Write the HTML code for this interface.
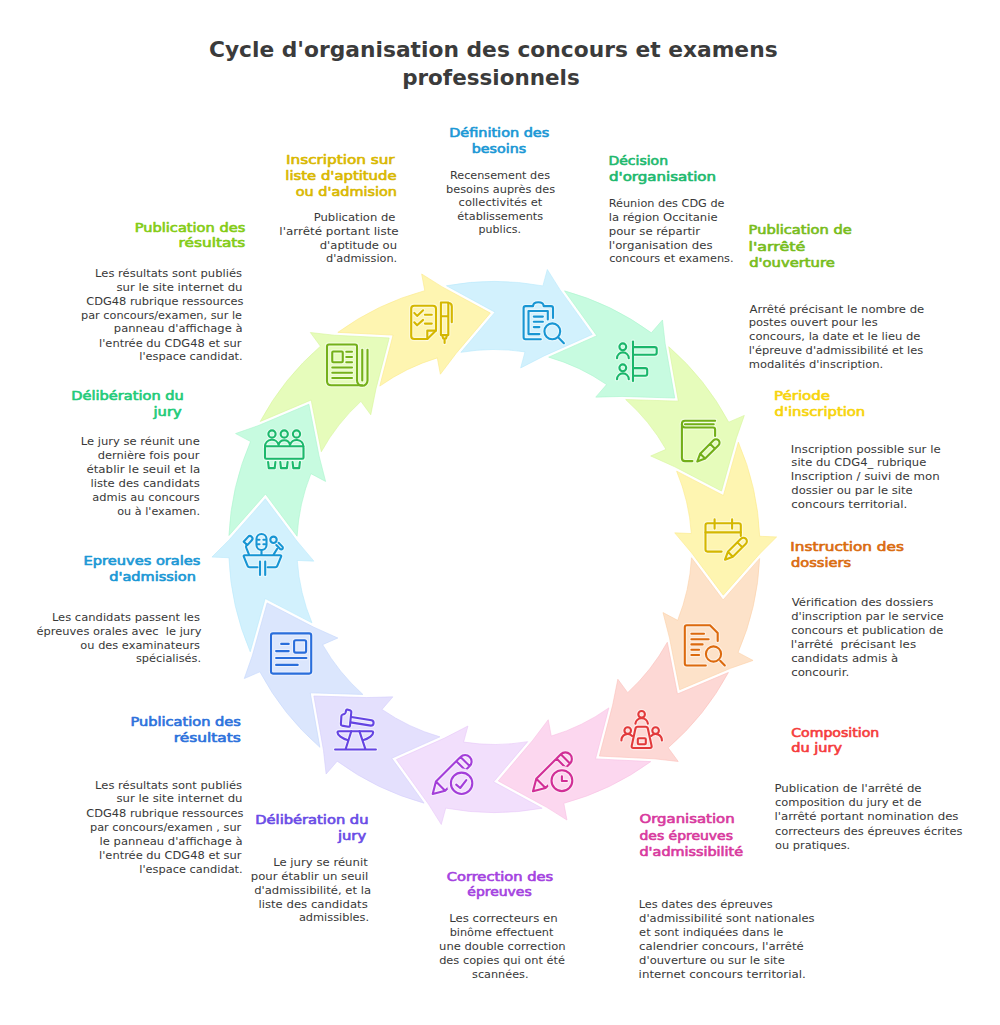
<!DOCTYPE html>
<html><head><meta charset="utf-8"><title>Cycle d'organisation des concours et examens professionnels</title><style>html,body{margin:0;padding:0;background:#fff;overflow:hidden;}svg{display:block;}</style></head><body>
<svg width="1000" height="1025" viewBox="0 0 1000 1025">
<rect width="1000" height="1025" fill="#ffffff"/>
<defs>
<mask id="km7" maskUnits="userSpaceOnUse" x="0" y="0" width="1000" height="1025"><rect x="0" y="0" width="1000" height="1025" fill="#fff"/><circle cx="561.9" cy="780.7" r="14.6" fill="#000"/></mask>
<mask id="km8" maskUnits="userSpaceOnUse" x="0" y="0" width="1000" height="1025"><rect x="0" y="0" width="1000" height="1025" fill="#fff"/><circle cx="461.6" cy="783.3" r="14.9" fill="#000"/></mask>
</defs>
<path d="M337.83,332.39 A265.6,265.6 0 0 1 424.78,290.66 L421.66,273.97 L441.80,286.64 L490.33,313.04 L456.26,353.20 L440.37,374.24 L437.32,357.90 A197.5,197.5 0 0 0 379.77,386.10 L393.04,335.12 Z" fill="#fef5b1" stroke="#fbe98a" stroke-width="0.6" stroke-linejoin="miter"/>
<path d="M446.44,285.75 A265.6,265.6 0 0 1 542.88,285.88 L547.32,269.50 L559.97,289.65 L592.23,334.49 L544.12,355.89 L520.67,367.95 L525.01,351.90 A197.5,197.5 0 0 0 460.92,352.34 L495.00,312.17 Z" fill="#d2f1fd" stroke="#b9e9fb" stroke-width="0.6" stroke-linejoin="miter"/>
<path d="M564.53,290.85 A265.6,265.6 0 0 1 651.37,332.82 L662.47,319.98 L665.13,343.62 L674.74,398.02 L622.10,396.43 L595.74,397.13 L606.62,384.55 A197.5,197.5 0 0 0 548.69,357.14 L596.82,335.73 Z" fill="#c7fbe0" stroke="#a9f5cc" stroke-width="0.6" stroke-linejoin="miter"/>
<path d="M668.71,346.69 A265.6,265.6 0 0 1 728.74,422.18 L744.32,415.43 L736.45,437.88 L721.51,491.07 L674.78,466.79 L650.73,455.98 L665.98,449.37 A197.5,197.5 0 0 0 625.68,399.54 L678.33,401.13 Z" fill="#e6fcbb" stroke="#d6f59a" stroke-width="0.6" stroke-linejoin="miter"/>
<path d="M738.35,442.21 A265.6,265.6 0 0 1 759.68,536.26 L776.64,536.94 L759.81,553.75 L723.28,595.19 L691.71,553.04 L674.72,532.87 L691.34,533.53 A197.5,197.5 0 0 0 676.65,471.14 L723.40,495.43 Z" fill="#fef5b1" stroke="#fbe98a" stroke-width="0.6" stroke-linejoin="miter"/>
<path d="M759.65,558.47 A265.6,265.6 0 0 1 738.06,652.47 L753.05,660.44 L730.59,668.29 L679.69,689.76 L669.54,638.09 L662.99,612.55 L677.67,620.36 A197.5,197.5 0 0 0 691.51,557.77 L723.09,599.94 Z" fill="#fde2c9" stroke="#fbd0a8" stroke-width="0.6" stroke-linejoin="miter"/>
<path d="M728.40,672.47 A265.6,265.6 0 0 1 668.16,747.79 L678.21,761.47 L654.56,758.80 L599.39,756.07 L612.66,705.11 L617.84,679.25 L627.68,692.65 A197.5,197.5 0 0 0 667.30,642.27 L677.46,693.96 Z" fill="#fdd8d5" stroke="#fbc0bb" stroke-width="0.6" stroke-linejoin="miter"/>
<path d="M650.77,761.61 A265.6,265.6 0 0 1 563.82,803.34 L566.94,820.03 L546.80,807.36 L498.27,780.96 L532.34,740.80 L548.23,719.76 L551.28,736.10 A197.5,197.5 0 0 0 608.83,707.90 L595.56,758.88 Z" fill="#fcd7ef" stroke="#f8bfe3" stroke-width="0.6" stroke-linejoin="miter"/>
<path d="M542.16,808.25 A265.6,265.6 0 0 1 445.72,808.12 L441.28,824.50 L428.63,804.35 L396.37,759.51 L444.48,738.11 L467.93,726.05 L463.59,742.10 A197.5,197.5 0 0 0 527.68,741.66 L493.60,781.83 Z" fill="#f2dffc" stroke="#e8c8f9" stroke-width="0.6" stroke-linejoin="miter"/>
<path d="M424.07,803.15 A265.6,265.6 0 0 1 337.23,761.18 L326.13,774.02 L323.47,750.38 L313.86,695.98 L366.50,697.57 L392.86,696.87 L381.98,709.45 A197.5,197.5 0 0 0 439.91,736.86 L391.78,758.27 Z" fill="#e4e0fd" stroke="#d3ccfb" stroke-width="0.6" stroke-linejoin="miter"/>
<path d="M319.89,747.31 A265.6,265.6 0 0 1 259.86,671.82 L244.28,678.57 L252.15,656.12 L267.09,602.93 L313.82,627.21 L337.87,638.02 L322.62,644.63 A197.5,197.5 0 0 0 362.92,694.46 L310.27,692.87 Z" fill="#dbe6fd" stroke="#c4d6fb" stroke-width="0.6" stroke-linejoin="miter"/>
<path d="M250.25,651.79 A265.6,265.6 0 0 1 228.92,557.74 L211.96,557.06 L228.79,540.25 L265.32,498.81 L296.89,540.96 L313.88,561.13 L297.26,560.47 A197.5,197.5 0 0 0 311.95,622.86 L265.20,598.57 Z" fill="#d2f1fd" stroke="#b9e9fb" stroke-width="0.6" stroke-linejoin="miter"/>
<path d="M228.95,535.53 A265.6,265.6 0 0 1 250.54,441.53 L235.55,433.56 L258.01,425.71 L308.91,404.24 L319.06,455.91 L325.61,481.45 L310.93,473.64 A197.5,197.5 0 0 0 297.09,536.23 L265.51,494.06 Z" fill="#c7fbe0" stroke="#a9f5cc" stroke-width="0.6" stroke-linejoin="miter"/>
<path d="M260.20,421.53 A265.6,265.6 0 0 1 320.44,346.21 L310.39,332.53 L334.04,335.20 L389.21,337.93 L375.94,388.89 L370.76,414.75 L360.92,401.35 A197.5,197.5 0 0 0 321.30,451.73 L311.14,400.04 Z" fill="#e6fcbb" stroke="#d6f59a" stroke-width="0.6" stroke-linejoin="miter"/>
<g fill="none" stroke="#ffffff" stroke-opacity="0.45" stroke-width="4.4" stroke-linecap="round" stroke-linejoin="round">
<path d="M427.3,339 H414.2 Q411.2,339 411.2,336 V308.7 Q411.2,305.7 414.2,305.7 H433 Q436,305.7 436,308.7 V330.6 Z"/>
<path d="M427.3,339 V330.6 H436"/>
<path d="M414.3,312.9 L417.1,315.9 L423.1,310.3 M414.3,322.3 L417.1,325.3 L423.1,319.9"/>
<path d="M424.9,314.8 H431.8 M424.9,323.6 H431.8"/>
<path d="M440.9,335.1 V302.5 H448.3 V335.1 Z M440.9,316.2 H448.3"/>
<path d="M448.3,303 C450.5,303 451.8,304.5 451.8,306.5 V322.2"/>
<path d="M442.2,335.3 L443.2,338.5 H446 L447,335.3 M444.6,338.5 V343"/>
</g>
<g fill="none" stroke="#d4b700" stroke-width="2.1" stroke-linecap="round" stroke-linejoin="round">
<path d="M427.3,339 H414.2 Q411.2,339 411.2,336 V308.7 Q411.2,305.7 414.2,305.7 H433 Q436,305.7 436,308.7 V330.6 Z"/>
<path d="M427.3,339 V330.6 H436"/>
<path d="M414.3,312.9 L417.1,315.9 L423.1,310.3 M414.3,322.3 L417.1,325.3 L423.1,319.9"/>
<path d="M424.9,314.8 H431.8 M424.9,323.6 H431.8"/>
<path d="M440.9,335.1 V302.5 H448.3 V335.1 Z M440.9,316.2 H448.3"/>
<path d="M448.3,303 C450.5,303 451.8,304.5 451.8,306.5 V322.2"/>
<path d="M442.2,335.3 L443.2,338.5 H446 L447,335.3 M444.6,338.5 V343"/>
</g>
<g fill="none" stroke="#ffffff" stroke-opacity="0.45" stroke-width="4.4" stroke-linecap="round" stroke-linejoin="round">
<path d="M540.8,339.3 H525.6 Q523.6,339.3 523.6,337.3 V308.1 Q523.6,306.1 525.6,306.1 H533.1 C533.1,303.5 535.5,302.2 538.3,302.2 C541.1,302.2 543.6,303.5 543.6,306.1 H551 Q553,306.1 553,308.1 V318"/>
<path d="M547.8,319.4 V311 H528.5 V334.1 H539.4"/>
<path d="M533.8,316.6 H542.9 M533.8,321.8 H542.9 M533.8,327.1 H539.4"/>
<circle cx="552.3" cy="331.3" r="7.9"/>
<path d="M558.3,337.6 L563.9,343.2"/>
</g>
<g fill="none" stroke="#1896d3" stroke-width="2.1" stroke-linecap="round" stroke-linejoin="round">
<path d="M540.8,339.3 H525.6 Q523.6,339.3 523.6,337.3 V308.1 Q523.6,306.1 525.6,306.1 H533.1 C533.1,303.5 535.5,302.2 538.3,302.2 C541.1,302.2 543.6,303.5 543.6,306.1 H551 Q553,306.1 553,308.1 V318"/>
<path d="M547.8,319.4 V311 H528.5 V334.1 H539.4"/>
<path d="M533.8,316.6 H542.9 M533.8,321.8 H542.9 M533.8,327.1 H539.4"/>
<circle cx="552.3" cy="331.3" r="7.9"/>
<path d="M558.3,337.6 L563.9,343.2"/>
</g>
<g fill="none" stroke="#ffffff" stroke-opacity="0.45" stroke-width="4.4" stroke-linecap="round" stroke-linejoin="round">
<circle cx="622.8" cy="346.8" r="3.4"/>
<path d="M617,358.3 A5.9,5.9 0 0 1 628.8,358.3"/>
<circle cx="622.8" cy="367.8" r="3.4"/>
<path d="M617,379.3 A5.9,5.9 0 0 1 628.8,379.3"/>
<path d="M633,341.5 V381.1"/>
<path d="M633,347.1 H654.7 Q656.7,347.1 656.7,349.1 V352.8 Q656.7,354.8 654.7,354.8 H633"/>
<path d="M633,368.1 H645.2 Q647.2,368.1 647.2,370.1 V373.8 Q647.2,375.8 645.2,375.8 H633"/>
</g>
<g fill="none" stroke="#1ab66b" stroke-width="2.1" stroke-linecap="round" stroke-linejoin="round">
<circle cx="622.8" cy="346.8" r="3.4"/>
<path d="M617,358.3 A5.9,5.9 0 0 1 628.8,358.3"/>
<circle cx="622.8" cy="367.8" r="3.4"/>
<path d="M617,379.3 A5.9,5.9 0 0 1 628.8,379.3"/>
<path d="M633,341.5 V381.1"/>
<path d="M633,347.1 H654.7 Q656.7,347.1 656.7,349.1 V352.8 Q656.7,354.8 654.7,354.8 H633"/>
<path d="M633,368.1 H645.2 Q647.2,368.1 647.2,370.1 V373.8 Q647.2,375.8 645.2,375.8 H633"/>
</g>
<g fill="none" stroke="#ffffff" stroke-opacity="0.45" stroke-width="4.4" stroke-linecap="round" stroke-linejoin="round">
<path d="M715.1,420.8 H685 Q681.9,420.8 681.9,424 V457.9 Q681.9,461.1 685,461.1 H692.4"/>
<path d="M681.9,424 Q681.9,427.5 685,427.5 H713.1 Q715.1,427.5 715.1,429.5 V435.9"/>
<path d="M685,424.2 H713.7"/>
<g><g transform="translate(697.3,461.5) rotate(-45)"><path d="M7.6,-3.5 L0,0 L7.6,3.5 M7.6,-3.5 L7.6,3.5 M7.6,-3.5 L26.5,-3.5 A3.5,3.5 0 0 1 26.5,3.5 L7.6,3.5 M21.5,-3.5 L21.5,3.5"/></g></g>
</g>
<g fill="none" stroke="#72ae18" stroke-width="2.1" stroke-linecap="round" stroke-linejoin="round">
<path d="M715.1,420.8 H685 Q681.9,420.8 681.9,424 V457.9 Q681.9,461.1 685,461.1 H692.4"/>
<path d="M681.9,424 Q681.9,427.5 685,427.5 H713.1 Q715.1,427.5 715.1,429.5 V435.9"/>
<path d="M685,424.2 H713.7"/>
<g><g transform="translate(697.3,461.5) rotate(-45)"><path d="M7.6,-3.5 L0,0 L7.6,3.5 M7.6,-3.5 L7.6,3.5 M7.6,-3.5 L26.5,-3.5 A3.5,3.5 0 0 1 26.5,3.5 L7.6,3.5 M21.5,-3.5 L21.5,3.5"/></g></g>
</g>
<g fill="none" stroke="#ffffff" stroke-opacity="0.45" stroke-width="4.4" stroke-linecap="round" stroke-linejoin="round">
<path d="M740.8,535.9 V525.3 Q740.8,523.3 738.8,523.3 H707.5 Q705.5,523.3 705.5,525.3 V549.6 Q705.5,551.6 707.5,551.6 H721.6"/>
<path d="M705.5,532.4 H740.8 M714.6,519.4 V528.6 M732.1,519.4 V528.6"/>
<g><g transform="translate(725.0,559.7) rotate(-45)"><path d="M7.6,-3.5 L0,0 L7.6,3.5 M7.6,-3.5 L7.6,3.5 M7.6,-3.5 L26.0,-3.5 A3.5,3.5 0 0 1 26.0,3.5 L7.6,3.5 M21.0,-3.5 L21.0,3.5"/></g></g>
</g>
<g fill="none" stroke="#d4b700" stroke-width="2.1" stroke-linecap="round" stroke-linejoin="round">
<path d="M740.8,535.9 V525.3 Q740.8,523.3 738.8,523.3 H707.5 Q705.5,523.3 705.5,525.3 V549.6 Q705.5,551.6 707.5,551.6 H721.6"/>
<path d="M705.5,532.4 H740.8 M714.6,519.4 V528.6 M732.1,519.4 V528.6"/>
<g><g transform="translate(725.0,559.7) rotate(-45)"><path d="M7.6,-3.5 L0,0 L7.6,3.5 M7.6,-3.5 L7.6,3.5 M7.6,-3.5 L26.0,-3.5 A3.5,3.5 0 0 1 26.0,3.5 L7.6,3.5 M21.0,-3.5 L21.0,3.5"/></g></g>
</g>
<g fill="none" stroke="#ffffff" stroke-opacity="0.45" stroke-width="4.4" stroke-linecap="round" stroke-linejoin="round">
<path d="M717.7,641 V633 L710,625.3 H686.8 Q684.8,625.3 684.8,627.3 V663.5 Q684.8,665.5 686.8,665.5 H705.8"/>
<path d="M691.4,633.8 H704 M691.4,639.2 H708.6 M691.4,644.4 H702.6 M691.4,649.8 H699.1 M691.4,655 H699.1"/>
<circle cx="713.5" cy="654" r="7.6"/>
<path d="M720.2,660.8 L724.8,665.5"/>
</g>
<g fill="none" stroke="#dc6a0e" stroke-width="2.1" stroke-linecap="round" stroke-linejoin="round">
<path d="M717.7,641 V633 L710,625.3 H686.8 Q684.8,625.3 684.8,627.3 V663.5 Q684.8,665.5 686.8,665.5 H705.8"/>
<path d="M691.4,633.8 H704 M691.4,639.2 H708.6 M691.4,644.4 H702.6 M691.4,649.8 H699.1 M691.4,655 H699.1"/>
<circle cx="713.5" cy="654" r="7.6"/>
<path d="M720.2,660.8 L724.8,665.5"/>
</g>
<g fill="none" stroke="#ffffff" stroke-opacity="0.45" stroke-width="4.4" stroke-linecap="round" stroke-linejoin="round">
<circle cx="641.6" cy="714.3" r="3.3"/>
<path d="M635.4,723.6 A6.3,6.3 0 0 1 647.9,723.6"/>
<circle cx="627.7" cy="730.6" r="3.3"/>
<path d="M621.4,740.4 A6.3,6.3 0 0 1 632.2,736"/>
<circle cx="655.6" cy="730.6" r="3.3"/>
<path d="M661.9,740.4 A6.3,6.3 0 0 0 651.1,736"/>
<path d="M637.8,726.7 H645.5 Q647.5,726.7 647.9,728.7 L651.6,745.9 Q652,748 650,748 H633.3 Q631.3,748 631.7,745.9 L635.4,728.7 Q635.8,726.7 637.8,726.7 Z"/>
<rect x="637.8" y="738.3" width="8" height="6" rx="1"/>
</g>
<g fill="none" stroke="#e2393a" stroke-width="2.1" stroke-linecap="round" stroke-linejoin="round">
<circle cx="641.6" cy="714.3" r="3.3"/>
<path d="M635.4,723.6 A6.3,6.3 0 0 1 647.9,723.6"/>
<circle cx="627.7" cy="730.6" r="3.3"/>
<path d="M621.4,740.4 A6.3,6.3 0 0 1 632.2,736"/>
<circle cx="655.6" cy="730.6" r="3.3"/>
<path d="M661.9,740.4 A6.3,6.3 0 0 0 651.1,736"/>
<path d="M637.8,726.7 H645.5 Q647.5,726.7 647.9,728.7 L651.6,745.9 Q652,748 650,748 H633.3 Q631.3,748 631.7,745.9 L635.4,728.7 Q635.8,726.7 637.8,726.7 Z"/>
<rect x="637.8" y="738.3" width="8" height="6" rx="1"/>
</g>
<g fill="none" stroke="#ffffff" stroke-opacity="0.45" stroke-width="4.4" stroke-linecap="round" stroke-linejoin="round">
<g mask="url(#km7)"><g transform="translate(533.0,791.3) rotate(-45)"><path d="M11.2,-6.5 L0,0 L11.2,6.5 M11.2,-6.5 L11.2,6.5 M11.2,-6.5 L45.8,-6.5 A6.5,6.5 0 0 1 45.8,6.5 L11.2,6.5 M39.8,-6.5 L39.8,6.5 M45.8,-6.5 L45.8,6.5"/></g></g>
<circle cx="561.9" cy="780.7" r="10.4"/>
<path d="M561.9,776.2 V781 H566.9"/>
</g>
<g fill="none" stroke="#d12e96" stroke-width="2.1" stroke-linecap="round" stroke-linejoin="round">
<g mask="url(#km7)"><g transform="translate(533.0,791.3) rotate(-45)"><path d="M11.2,-6.5 L0,0 L11.2,6.5 M11.2,-6.5 L11.2,6.5 M11.2,-6.5 L45.8,-6.5 A6.5,6.5 0 0 1 45.8,6.5 L11.2,6.5 M39.8,-6.5 L39.8,6.5 M45.8,-6.5 L45.8,6.5"/></g></g>
<circle cx="561.9" cy="780.7" r="10.4"/>
<path d="M561.9,776.2 V781 H566.9"/>
</g>
<g fill="none" stroke="#ffffff" stroke-opacity="0.45" stroke-width="4.4" stroke-linecap="round" stroke-linejoin="round">
<g mask="url(#km8)"><g transform="translate(432.7,793.9) rotate(-45)"><path d="M11.1,-6.5 L0,0 L11.1,6.5 M11.1,-6.5 L11.1,6.5 M11.1,-6.5 L45.8,-6.5 A6.5,6.5 0 0 1 45.8,6.5 L11.1,6.5 M39.8,-6.5 L39.8,6.5 M45.8,-6.5 L45.8,6.5"/></g></g>
<circle cx="461.6" cy="783.3" r="10.7"/>
<path d="M456.2,784.6 L460.2,788 L466.3,780.1"/>
</g>
<g fill="none" stroke="#a33ed9" stroke-width="2.1" stroke-linecap="round" stroke-linejoin="round">
<g mask="url(#km8)"><g transform="translate(432.7,793.9) rotate(-45)"><path d="M11.1,-6.5 L0,0 L11.1,6.5 M11.1,-6.5 L11.1,6.5 M11.1,-6.5 L45.8,-6.5 A6.5,6.5 0 0 1 45.8,6.5 L11.1,6.5 M39.8,-6.5 L39.8,6.5 M45.8,-6.5 L45.8,6.5"/></g></g>
<circle cx="461.6" cy="783.3" r="10.7"/>
<path d="M456.2,784.6 L460.2,788 L466.3,780.1"/>
</g>
<g fill="none" stroke="#ffffff" stroke-opacity="0.45" stroke-width="4.4" stroke-linecap="round" stroke-linejoin="round">
<path d="M347.2,709.6 L350.6,710.6 Q351.4,711 351.3,712 L350,725.5 Q349.8,727 348.3,726.8 L342,725.6 Q340.8,725.3 340.9,724 L341.4,716 Q341.5,715 342.5,714.6 L344.3,713.9 Q345.3,713.5 345.6,712.5 L346.1,710.4 Q346.4,709.4 347.2,709.6 Z"/>
<path d="M351.3,717 L371.6,720.3 A2.7,2.7 0 0 1 370.8,725.6 L350.6,722.4"/>
<path d="M347.4,740 C342,738.5 337.5,735 337.5,732.6 Q337.5,731.2 339,731.2 H371.8 Q373.2,731.2 373.2,732.6 C373.2,735 369,738.5 363.6,740"/>
<path d="M351.3,731.2 L345.6,749.2 M359.4,731.2 L365.4,749.2 M335.1,749.5 H375.9"/>
</g>
<g fill="none" stroke="#6444e2" stroke-width="2.1" stroke-linecap="round" stroke-linejoin="round">
<path d="M347.2,709.6 L350.6,710.6 Q351.4,711 351.3,712 L350,725.5 Q349.8,727 348.3,726.8 L342,725.6 Q340.8,725.3 340.9,724 L341.4,716 Q341.5,715 342.5,714.6 L344.3,713.9 Q345.3,713.5 345.6,712.5 L346.1,710.4 Q346.4,709.4 347.2,709.6 Z"/>
<path d="M351.3,717 L371.6,720.3 A2.7,2.7 0 0 1 370.8,725.6 L350.6,722.4"/>
<path d="M347.4,740 C342,738.5 337.5,735 337.5,732.6 Q337.5,731.2 339,731.2 H371.8 Q373.2,731.2 373.2,732.6 C373.2,735 369,738.5 363.6,740"/>
<path d="M351.3,731.2 L345.6,749.2 M359.4,731.2 L365.4,749.2 M335.1,749.5 H375.9"/>
</g>
<g fill="none" stroke="#ffffff" stroke-opacity="0.45" stroke-width="4.4" stroke-linecap="round" stroke-linejoin="round">
<rect x="271" y="633.4" width="40.2" height="40.2" rx="2"/>
<rect x="294.1" y="640.3" width="12" height="12.3" rx="1.5"/>
<path d="M281.2,643.9 H288.7 M276.1,651.1 H288.7 M276.1,658 H306.4 M276.1,664.9 H297.7"/>
</g>
<g fill="none" stroke="#2a6edb" stroke-width="2.1" stroke-linecap="round" stroke-linejoin="round">
<rect x="271" y="633.4" width="40.2" height="40.2" rx="2"/>
<rect x="294.1" y="640.3" width="12" height="12.3" rx="1.5"/>
<path d="M281.2,643.9 H288.7 M276.1,651.1 H288.7 M276.1,658 H306.4 M276.1,664.9 H297.7"/>
</g>
<g fill="none" stroke="#ffffff" stroke-opacity="0.45" stroke-width="4.4" stroke-linecap="round" stroke-linejoin="round">
<path d="M257.5,567.2 H249.6 Q248.1,567.2 247.6,565.9 L243.8,556.6 Q243.3,555.3 244.8,555.3 H280.1 Q281.6,555.3 281.1,556.6 L277.3,565.9 Q276.8,567.2 275.3,567.2 H267.7"/>
<path d="M260,561.5 V575 M265.2,561.5 V575"/>
<rect x="256.5" y="534" width="10" height="16" rx="5"/>
<path d="M261.5,550 V555 M257.9,539.8 H259.5 M263.4,539.8 H265.1 M257.9,544.3 H259.5 M263.4,544.3 H265.1"/>
<g transform="translate(248.6,540) rotate(-48)"><path d="M-4.6,-2.5 H2 A2.5,2.5 0 0 1 2,2.5 H-4.6 Z"/></g>
<path d="M246.6,544.2 Q245.4,546.8 246.8,549.2 L249,554.6"/>
<circle cx="273.5" cy="539.8" r="3.2"/>
<g transform="translate(279.7,546.2) rotate(45)"><path d="M-3.2,-1.6 H2.2 A1.6,1.6 0 0 1 2.2,1.6 H-3.2"/></g>
<path d="M277.2,548.8 L273.6,554.6"/>
</g>
<g fill="none" stroke="#1795d3" stroke-width="2.1" stroke-linecap="round" stroke-linejoin="round">
<path d="M257.5,567.2 H249.6 Q248.1,567.2 247.6,565.9 L243.8,556.6 Q243.3,555.3 244.8,555.3 H280.1 Q281.6,555.3 281.1,556.6 L277.3,565.9 Q276.8,567.2 275.3,567.2 H267.7"/>
<path d="M260,561.5 V575 M265.2,561.5 V575"/>
<rect x="256.5" y="534" width="10" height="16" rx="5"/>
<path d="M261.5,550 V555 M257.9,539.8 H259.5 M263.4,539.8 H265.1 M257.9,544.3 H259.5 M263.4,544.3 H265.1"/>
<g transform="translate(248.6,540) rotate(-48)"><path d="M-4.6,-2.5 H2 A2.5,2.5 0 0 1 2,2.5 H-4.6 Z"/></g>
<path d="M246.6,544.2 Q245.4,546.8 246.8,549.2 L249,554.6"/>
<circle cx="273.5" cy="539.8" r="3.2"/>
<g transform="translate(279.7,546.2) rotate(45)"><path d="M-3.2,-1.6 H2.2 A1.6,1.6 0 0 1 2.2,1.6 H-3.2"/></g>
<path d="M277.2,548.8 L273.6,554.6"/>
</g>
<g fill="none" stroke="#ffffff" stroke-opacity="0.45" stroke-width="4.4" stroke-linecap="round" stroke-linejoin="round">
<circle cx="272" cy="434" r="3.6"/>
<circle cx="284.25" cy="434" r="3.6"/>
<circle cx="296.5" cy="434" r="3.6"/>
<path d="M265,446.3 A6.9,6.9 0 0 1 278.6,445 M278.6,445 A5.8,5.8 0 0 1 290,445 M290,445 A6.9,6.9 0 0 1 303.5,446.3"/>
<rect x="265" y="446.3" width="38.5" height="12.4" rx="1.2"/>
<path d="M268.1,462 L268.8,468.1 H274.7 L275.4,462 M280.3,462 L281,468.1 H286.9 L287.6,462 M292.6,462 L293.3,468.1 H299.2 L299.9,462"/>
</g>
<g fill="none" stroke="#1cb86c" stroke-width="2.1" stroke-linecap="round" stroke-linejoin="round">
<circle cx="272" cy="434" r="3.6"/>
<circle cx="284.25" cy="434" r="3.6"/>
<circle cx="296.5" cy="434" r="3.6"/>
<path d="M265,446.3 A6.9,6.9 0 0 1 278.6,445 M278.6,445 A5.8,5.8 0 0 1 290,445 M290,445 A6.9,6.9 0 0 1 303.5,446.3"/>
<rect x="265" y="446.3" width="38.5" height="12.4" rx="1.2"/>
<path d="M268.1,462 L268.8,468.1 H274.7 L275.4,462 M280.3,462 L281,468.1 H286.9 L287.6,462 M292.6,462 L293.3,468.1 H299.2 L299.9,462"/>
</g>
<g fill="none" stroke="#ffffff" stroke-opacity="0.45" stroke-width="4.4" stroke-linecap="round" stroke-linejoin="round">
<path d="M357,346.5 V380.5 A5.25,5.25 0 0 0 367.5,380.5 V349.8"/>
<path d="M357,346.5 Q357,344.5 355,344.5 H329 Q327,344.5 327,346.5 V381 Q327,385.25 331.25,385.25 H362.25"/>
<path d="M362.25,349.8 V380.5"/>
<rect x="332.25" y="351.5" width="10.5" height="10.75" rx="1"/>
<path d="M346.3,351.8 H352 M346.3,357 H352 M346.3,362.3 H352 M332.3,367.5 H352 M332.3,372.8 H352 M332.3,378 H352"/>
</g>
<g fill="none" stroke="#74b01a" stroke-width="2.1" stroke-linecap="round" stroke-linejoin="round">
<path d="M357,346.5 V380.5 A5.25,5.25 0 0 0 367.5,380.5 V349.8"/>
<path d="M357,346.5 Q357,344.5 355,344.5 H329 Q327,344.5 327,346.5 V381 Q327,385.25 331.25,385.25 H362.25"/>
<path d="M362.25,349.8 V380.5"/>
<rect x="332.25" y="351.5" width="10.5" height="10.75" rx="1"/>
<path d="M346.3,351.8 H352 M346.3,357 H352 M346.3,362.3 H352 M332.3,367.5 H352 M332.3,372.8 H352 M332.3,378 H352"/>
</g>
<text x="208.91" y="57.00" font-family='"DejaVu Sans", sans-serif' font-size="21.5" font-weight="bold" fill="#3b3b3b" textLength="568.69" lengthAdjust="spacingAndGlyphs" xml:space="preserve">Cycle d'organisation des concours et examens</text>
<text x="402.18" y="84.60" font-family='"DejaVu Sans", sans-serif' font-size="21.5" font-weight="bold" fill="#3b3b3b" textLength="177.49" lengthAdjust="spacingAndGlyphs" xml:space="preserve">professionnels</text>
<text x="449.23" y="137.40" font-family='"DejaVu Sans", sans-serif' font-size="11.4" font-weight="normal" fill="#1b98d5" stroke="#1b98d5" stroke-width="0.6" stroke-linejoin="round" textLength="100.04" lengthAdjust="spacingAndGlyphs" xml:space="preserve">Définition des</text>
<text x="471.72" y="153.00" font-family='"DejaVu Sans", sans-serif' font-size="11.4" font-weight="normal" fill="#1b98d5" stroke="#1b98d5" stroke-width="0.6" stroke-linejoin="round" textLength="54.43" lengthAdjust="spacingAndGlyphs" xml:space="preserve">besoins</text>
<text x="449.93" y="178.80" font-family='"DejaVu Sans", sans-serif' font-size="9.8" font-weight="normal" fill="#383838" textLength="100.07" lengthAdjust="spacingAndGlyphs" xml:space="preserve">Recensement des</text>
<text x="445.98" y="192.60" font-family='"DejaVu Sans", sans-serif' font-size="9.8" font-weight="normal" fill="#383838" textLength="109.12" lengthAdjust="spacingAndGlyphs" xml:space="preserve">besoins auprès des</text>
<text x="458.57" y="206.40" font-family='"DejaVu Sans", sans-serif' font-size="9.8" font-weight="normal" fill="#383838" textLength="83.67" lengthAdjust="spacingAndGlyphs" xml:space="preserve">collectivités et</text>
<text x="457.38" y="220.20" font-family='"DejaVu Sans", sans-serif' font-size="9.8" font-weight="normal" fill="#383838" textLength="85.72" lengthAdjust="spacingAndGlyphs" xml:space="preserve">établissements</text>
<text x="478.61" y="233.40" font-family='"DejaVu Sans", sans-serif' font-size="9.8" font-weight="normal" fill="#383838" textLength="42.38" lengthAdjust="spacingAndGlyphs" xml:space="preserve">publics.</text>
<text x="608.47" y="165.10" font-family='"DejaVu Sans", sans-serif' font-size="11.4" font-weight="normal" fill="#1eb96e" stroke="#1eb96e" stroke-width="0.6" stroke-linejoin="round" textLength="59.58" lengthAdjust="spacingAndGlyphs" xml:space="preserve">Décision</text>
<text x="608.97" y="181.30" font-family='"DejaVu Sans", sans-serif' font-size="11.4" font-weight="normal" fill="#1eb96e" stroke="#1eb96e" stroke-width="0.6" stroke-linejoin="round" textLength="107.08" lengthAdjust="spacingAndGlyphs" xml:space="preserve">d'organisation</text>
<text x="608.73" y="206.50" font-family='"DejaVu Sans", sans-serif' font-size="9.8" font-weight="normal" fill="#383838" textLength="115.82" lengthAdjust="spacingAndGlyphs" xml:space="preserve">Réunion des CDG de</text>
<text x="608.70" y="220.80" font-family='"DejaVu Sans", sans-serif' font-size="9.8" font-weight="normal" fill="#383838" textLength="108.89" lengthAdjust="spacingAndGlyphs" xml:space="preserve">la région Occitanie</text>
<text x="608.75" y="234.60" font-family='"DejaVu Sans", sans-serif' font-size="9.8" font-weight="normal" fill="#383838" textLength="91.39" lengthAdjust="spacingAndGlyphs" xml:space="preserve">pour se répartir</text>
<text x="608.69" y="248.60" font-family='"DejaVu Sans", sans-serif' font-size="9.8" font-weight="normal" fill="#383838" textLength="103.85" lengthAdjust="spacingAndGlyphs" xml:space="preserve">l'organisation des</text>
<text x="609.18" y="262.10" font-family='"DejaVu Sans", sans-serif' font-size="9.8" font-weight="normal" fill="#383838" textLength="124.31" lengthAdjust="spacingAndGlyphs" xml:space="preserve">concours et examens.</text>
<text x="286.05" y="163.50" font-family='"DejaVu Sans", sans-serif' font-size="11.4" font-weight="normal" fill="#d9b800" stroke="#d9b800" stroke-width="0.6" stroke-linejoin="round" textLength="108.59" lengthAdjust="spacingAndGlyphs" xml:space="preserve">Inscription sur</text>
<text x="285.39" y="179.70" font-family='"DejaVu Sans", sans-serif' font-size="11.4" font-weight="normal" fill="#d9b800" stroke="#d9b800" stroke-width="0.6" stroke-linejoin="round" textLength="111.15" lengthAdjust="spacingAndGlyphs" xml:space="preserve">liste d'aptitude</text>
<text x="295.81" y="196.10" font-family='"DejaVu Sans", sans-serif' font-size="11.4" font-weight="normal" fill="#d9b800" stroke="#d9b800" stroke-width="0.6" stroke-linejoin="round" textLength="101.18" lengthAdjust="spacingAndGlyphs" xml:space="preserve">ou d'admision</text>
<text x="313.70" y="220.60" font-family='"DejaVu Sans", sans-serif' font-size="9.8" font-weight="normal" fill="#383838" textLength="81.79" lengthAdjust="spacingAndGlyphs" xml:space="preserve">Publication de</text>
<text x="279.36" y="234.60" font-family='"DejaVu Sans", sans-serif' font-size="9.8" font-weight="normal" fill="#383838" textLength="119.33" lengthAdjust="spacingAndGlyphs" xml:space="preserve">l'arrêté portant liste</text>
<text x="319.76" y="248.90" font-family='"DejaVu Sans", sans-serif' font-size="9.8" font-weight="normal" fill="#383838" textLength="77.24" lengthAdjust="spacingAndGlyphs" xml:space="preserve">d'aptitude ou</text>
<text x="326.08" y="262.40" font-family='"DejaVu Sans", sans-serif' font-size="9.8" font-weight="normal" fill="#383838" textLength="71.14" lengthAdjust="spacingAndGlyphs" xml:space="preserve">d'admission.</text>
<text x="748.61" y="234.00" font-family='"DejaVu Sans", sans-serif' font-size="11.4" font-weight="normal" fill="#78bd1c" stroke="#78bd1c" stroke-width="0.6" stroke-linejoin="round" textLength="103.13" lengthAdjust="spacingAndGlyphs" xml:space="preserve">Publication de</text>
<text x="748.49" y="250.50" font-family='"DejaVu Sans", sans-serif' font-size="11.4" font-weight="normal" fill="#78bd1c" stroke="#78bd1c" stroke-width="0.6" stroke-linejoin="round" textLength="56.82" lengthAdjust="spacingAndGlyphs" xml:space="preserve">l'arrêté</text>
<text x="749.19" y="267.00" font-family='"DejaVu Sans", sans-serif' font-size="11.4" font-weight="normal" fill="#78bd1c" stroke="#78bd1c" stroke-width="0.6" stroke-linejoin="round" textLength="85.53" lengthAdjust="spacingAndGlyphs" xml:space="preserve">d'ouverture</text>
<text x="749.63" y="312.50" font-family='"DejaVu Sans", sans-serif' font-size="9.8" font-weight="normal" fill="#383838" textLength="174.65" lengthAdjust="spacingAndGlyphs" xml:space="preserve">Arrêté précisant le nombre de</text>
<text x="748.72" y="326.40" font-family='"DejaVu Sans", sans-serif' font-size="9.8" font-weight="normal" fill="#383838" textLength="128.92" lengthAdjust="spacingAndGlyphs" xml:space="preserve">postes ouvert pour les</text>
<text x="749.12" y="340.20" font-family='"DejaVu Sans", sans-serif' font-size="9.8" font-weight="normal" fill="#383838" textLength="171.35" lengthAdjust="spacingAndGlyphs" xml:space="preserve">concours, la date et le lieu de</text>
<text x="748.66" y="353.90" font-family='"DejaVu Sans", sans-serif' font-size="9.8" font-weight="normal" fill="#383838" textLength="174.69" lengthAdjust="spacingAndGlyphs" xml:space="preserve">l'épreuve d'admissibilité et les</text>
<text x="748.71" y="368.20" font-family='"DejaVu Sans", sans-serif' font-size="9.8" font-weight="normal" fill="#383838" textLength="134.45" lengthAdjust="spacingAndGlyphs" xml:space="preserve">modalités d'inscription.</text>
<text x="773.97" y="399.80" font-family='"DejaVu Sans", sans-serif' font-size="11.4" font-weight="normal" fill="#f7d40c" stroke="#f7d40c" stroke-width="0.6" stroke-linejoin="round" textLength="56.16" lengthAdjust="spacingAndGlyphs" xml:space="preserve">Période</text>
<text x="774.59" y="416.00" font-family='"DejaVu Sans", sans-serif' font-size="11.4" font-weight="normal" fill="#f7d40c" stroke="#f7d40c" stroke-width="0.6" stroke-linejoin="round" textLength="90.62" lengthAdjust="spacingAndGlyphs" xml:space="preserve">d'inscription</text>
<text x="790.88" y="452.50" font-family='"DejaVu Sans", sans-serif' font-size="9.8" font-weight="normal" fill="#383838" textLength="149.81" lengthAdjust="spacingAndGlyphs" xml:space="preserve">Inscription possible sur le</text>
<text x="791.36" y="466.40" font-family='"DejaVu Sans", sans-serif' font-size="9.8" font-weight="normal" fill="#383838" textLength="134.92" lengthAdjust="spacingAndGlyphs" xml:space="preserve">site du CDG4_ rubrique</text>
<text x="790.88" y="480.00" font-family='"DejaVu Sans", sans-serif' font-size="9.8" font-weight="normal" fill="#383838" textLength="148.92" lengthAdjust="spacingAndGlyphs" xml:space="preserve">Inscription / suivi de mon</text>
<text x="791.36" y="494.30" font-family='"DejaVu Sans", sans-serif' font-size="9.8" font-weight="normal" fill="#383838" textLength="121.39" lengthAdjust="spacingAndGlyphs" xml:space="preserve">dossier ou par le site</text>
<text x="791.35" y="508.30" font-family='"DejaVu Sans", sans-serif' font-size="9.8" font-weight="normal" fill="#383838" textLength="115.81" lengthAdjust="spacingAndGlyphs" xml:space="preserve">concours territorial.</text>
<text x="790.35" y="551.20" font-family='"DejaVu Sans", sans-serif' font-size="11.4" font-weight="normal" fill="#da6c10" stroke="#da6c10" stroke-width="0.6" stroke-linejoin="round" textLength="113.55" lengthAdjust="spacingAndGlyphs" xml:space="preserve">Instruction des</text>
<text x="791.00" y="567.00" font-family='"DejaVu Sans", sans-serif' font-size="11.4" font-weight="normal" fill="#da6c10" stroke="#da6c10" stroke-width="0.6" stroke-linejoin="round" textLength="60.14" lengthAdjust="spacingAndGlyphs" xml:space="preserve">dossiers</text>
<text x="791.68" y="606.40" font-family='"DejaVu Sans", sans-serif' font-size="9.8" font-weight="normal" fill="#383838" textLength="141.73" lengthAdjust="spacingAndGlyphs" xml:space="preserve">Vérification des dossiers</text>
<text x="791.17" y="620.00" font-family='"DejaVu Sans", sans-serif' font-size="9.8" font-weight="normal" fill="#383838" textLength="152.50" lengthAdjust="spacingAndGlyphs" xml:space="preserve">d'inscription par le service</text>
<text x="791.17" y="634.10" font-family='"DejaVu Sans", sans-serif' font-size="9.8" font-weight="normal" fill="#383838" textLength="152.22" lengthAdjust="spacingAndGlyphs" xml:space="preserve">concours et publication de</text>
<text x="790.67" y="648.00" font-family='"DejaVu Sans", sans-serif' font-size="9.8" font-weight="normal" fill="#383838" textLength="125.47" lengthAdjust="spacingAndGlyphs" xml:space="preserve">l'arrêté  précisant les</text>
<text x="791.16" y="662.20" font-family='"DejaVu Sans", sans-serif' font-size="9.8" font-weight="normal" fill="#383838" textLength="107.09" lengthAdjust="spacingAndGlyphs" xml:space="preserve">candidats admis à</text>
<text x="791.15" y="676.10" font-family='"DejaVu Sans", sans-serif' font-size="9.8" font-weight="normal" fill="#383838" textLength="58.01" lengthAdjust="spacingAndGlyphs" xml:space="preserve">concourir.</text>
<text x="791.23" y="737.00" font-family='"DejaVu Sans", sans-serif' font-size="11.4" font-weight="normal" fill="#f53d3d" stroke="#f53d3d" stroke-width="0.6" stroke-linejoin="round" textLength="87.97" lengthAdjust="spacingAndGlyphs" xml:space="preserve">Composition</text>
<text x="791.20" y="752.40" font-family='"DejaVu Sans", sans-serif' font-size="11.4" font-weight="normal" fill="#f53d3d" stroke="#f53d3d" stroke-width="0.6" stroke-linejoin="round" textLength="50.85" lengthAdjust="spacingAndGlyphs" xml:space="preserve">du jury</text>
<text x="774.48" y="792.10" font-family='"DejaVu Sans", sans-serif' font-size="9.8" font-weight="normal" fill="#383838" textLength="147.13" lengthAdjust="spacingAndGlyphs" xml:space="preserve">Publication de l'arrêté de</text>
<text x="774.97" y="806.30" font-family='"DejaVu Sans", sans-serif' font-size="9.8" font-weight="normal" fill="#383838" textLength="146.59" lengthAdjust="spacingAndGlyphs" xml:space="preserve">composition du jury et de</text>
<text x="774.48" y="820.40" font-family='"DejaVu Sans", sans-serif' font-size="9.8" font-weight="normal" fill="#383838" textLength="184.04" lengthAdjust="spacingAndGlyphs" xml:space="preserve">l'arrêté portant nomination des</text>
<text x="774.97" y="834.50" font-family='"DejaVu Sans", sans-serif' font-size="9.8" font-weight="normal" fill="#383838" textLength="187.56" lengthAdjust="spacingAndGlyphs" xml:space="preserve">correcteurs des épreuves écrites</text>
<text x="774.97" y="848.80" font-family='"DejaVu Sans", sans-serif' font-size="9.8" font-weight="normal" fill="#383838" textLength="75.28" lengthAdjust="spacingAndGlyphs" xml:space="preserve">ou pratiques.</text>
<text x="639.48" y="823.00" font-family='"DejaVu Sans", sans-serif' font-size="11.4" font-weight="normal" fill="#d83a9e" stroke="#d83a9e" stroke-width="0.6" stroke-linejoin="round" textLength="95.17" lengthAdjust="spacingAndGlyphs" xml:space="preserve">Organisation</text>
<text x="639.53" y="839.60" font-family='"DejaVu Sans", sans-serif' font-size="11.4" font-weight="normal" fill="#d83a9e" stroke="#d83a9e" stroke-width="0.6" stroke-linejoin="round" textLength="93.40" lengthAdjust="spacingAndGlyphs" xml:space="preserve">des épreuves</text>
<text x="639.51" y="855.90" font-family='"DejaVu Sans", sans-serif' font-size="11.4" font-weight="normal" fill="#d83a9e" stroke="#d83a9e" stroke-width="0.6" stroke-linejoin="round" textLength="103.60" lengthAdjust="spacingAndGlyphs" xml:space="preserve">d'admissibilité</text>
<text x="638.67" y="908.30" font-family='"DejaVu Sans", sans-serif' font-size="9.8" font-weight="normal" fill="#383838" textLength="134.07" lengthAdjust="spacingAndGlyphs" xml:space="preserve">Les dates des épreuves</text>
<text x="639.11" y="922.20" font-family='"DejaVu Sans", sans-serif' font-size="9.8" font-weight="normal" fill="#383838" textLength="175.44" lengthAdjust="spacingAndGlyphs" xml:space="preserve">d'admissibilité sont nationales</text>
<text x="639.12" y="935.90" font-family='"DejaVu Sans", sans-serif' font-size="9.8" font-weight="normal" fill="#383838" textLength="144.28" lengthAdjust="spacingAndGlyphs" xml:space="preserve">et sont indiquées dans le</text>
<text x="639.11" y="950.10" font-family='"DejaVu Sans", sans-serif' font-size="9.8" font-weight="normal" fill="#383838" textLength="164.71" lengthAdjust="spacingAndGlyphs" xml:space="preserve">calendrier concours, l'arrêté</text>
<text x="639.11" y="963.80" font-family='"DejaVu Sans", sans-serif' font-size="9.8" font-weight="normal" fill="#383838" textLength="145.68" lengthAdjust="spacingAndGlyphs" xml:space="preserve">d'ouverture ou sur le site</text>
<text x="638.62" y="977.70" font-family='"DejaVu Sans", sans-serif' font-size="9.8" font-weight="normal" fill="#383838" textLength="167.17" lengthAdjust="spacingAndGlyphs" xml:space="preserve">internet concours territorial.</text>
<text x="446.69" y="880.50" font-family='"DejaVu Sans", sans-serif' font-size="11.4" font-weight="normal" fill="#a443e0" stroke="#a443e0" stroke-width="0.6" stroke-linejoin="round" textLength="106.50" lengthAdjust="spacingAndGlyphs" xml:space="preserve">Correction des</text>
<text x="467.33" y="896.30" font-family='"DejaVu Sans", sans-serif' font-size="11.4" font-weight="normal" fill="#a443e0" stroke="#a443e0" stroke-width="0.6" stroke-linejoin="round" textLength="64.41" lengthAdjust="spacingAndGlyphs" xml:space="preserve">épreuves</text>
<text x="449.18" y="922.20" font-family='"DejaVu Sans", sans-serif' font-size="9.8" font-weight="normal" fill="#383838" textLength="108.50" lengthAdjust="spacingAndGlyphs" xml:space="preserve">Les correcteurs en</text>
<text x="449.69" y="936.00" font-family='"DejaVu Sans", sans-serif' font-size="9.8" font-weight="normal" fill="#383838" textLength="103.76" lengthAdjust="spacingAndGlyphs" xml:space="preserve">binôme effectuent</text>
<text x="439.12" y="950.00" font-family='"DejaVu Sans", sans-serif' font-size="9.8" font-weight="normal" fill="#383838" textLength="126.53" lengthAdjust="spacingAndGlyphs" xml:space="preserve">une double correction</text>
<text x="439.17" y="963.50" font-family='"DejaVu Sans", sans-serif' font-size="9.8" font-weight="normal" fill="#383838" textLength="125.79" lengthAdjust="spacingAndGlyphs" xml:space="preserve">des copies qui ont été</text>
<text x="472.08" y="978.00" font-family='"DejaVu Sans", sans-serif' font-size="9.8" font-weight="normal" fill="#383838" textLength="56.41" lengthAdjust="spacingAndGlyphs" xml:space="preserve">scannées.</text>
<text x="255.31" y="824.20" font-family='"DejaVu Sans", sans-serif' font-size="11.4" font-weight="normal" fill="#6a4ce6" stroke="#6a4ce6" stroke-width="0.6" stroke-linejoin="round" textLength="113.17" lengthAdjust="spacingAndGlyphs" xml:space="preserve">Délibération du</text>
<text x="337.90" y="839.80" font-family='"DejaVu Sans", sans-serif' font-size="11.4" font-weight="normal" fill="#6a4ce6" stroke="#6a4ce6" stroke-width="0.6" stroke-linejoin="round" textLength="28.24" lengthAdjust="spacingAndGlyphs" xml:space="preserve">jury</text>
<text x="273.19" y="866.10" font-family='"DejaVu Sans", sans-serif' font-size="9.8" font-weight="normal" fill="#383838" textLength="94.56" lengthAdjust="spacingAndGlyphs" xml:space="preserve">Le jury se réunit</text>
<text x="250.75" y="879.80" font-family='"DejaVu Sans", sans-serif' font-size="9.8" font-weight="normal" fill="#383838" textLength="117.51" lengthAdjust="spacingAndGlyphs" xml:space="preserve">pour établir un seuil</text>
<text x="254.16" y="894.10" font-family='"DejaVu Sans", sans-serif' font-size="9.8" font-weight="normal" fill="#383838" textLength="116.94" lengthAdjust="spacingAndGlyphs" xml:space="preserve">d'admissibilité, et la</text>
<text x="258.49" y="907.70" font-family='"DejaVu Sans", sans-serif' font-size="9.8" font-weight="normal" fill="#383838" textLength="109.24" lengthAdjust="spacingAndGlyphs" xml:space="preserve">liste des candidats</text>
<text x="298.92" y="921.10" font-family='"DejaVu Sans", sans-serif' font-size="9.8" font-weight="normal" fill="#383838" textLength="70.18" lengthAdjust="spacingAndGlyphs" xml:space="preserve">admissibles.</text>
<text x="130.52" y="726.40" font-family='"DejaVu Sans", sans-serif' font-size="11.4" font-weight="normal" fill="#2d72dc" stroke="#2d72dc" stroke-width="0.6" stroke-linejoin="round" textLength="110.37" lengthAdjust="spacingAndGlyphs" xml:space="preserve">Publication des</text>
<text x="173.81" y="742.00" font-family='"DejaVu Sans", sans-serif' font-size="11.4" font-weight="normal" fill="#2d72dc" stroke="#2d72dc" stroke-width="0.6" stroke-linejoin="round" textLength="67.08" lengthAdjust="spacingAndGlyphs" xml:space="preserve">résultats</text>
<text x="95.10" y="788.80" font-family='"DejaVu Sans", sans-serif' font-size="9.8" font-weight="normal" fill="#383838" textLength="146.90" lengthAdjust="spacingAndGlyphs" xml:space="preserve">Les résultats sont publiés</text>
<text x="116.46" y="802.40" font-family='"DejaVu Sans", sans-serif' font-size="9.8" font-weight="normal" fill="#383838" textLength="126.09" lengthAdjust="spacingAndGlyphs" xml:space="preserve">sur le site internet du</text>
<text x="86.17" y="816.80" font-family='"DejaVu Sans", sans-serif' font-size="9.8" font-weight="normal" fill="#383838" textLength="157.26" lengthAdjust="spacingAndGlyphs" xml:space="preserve">CDG48 rubrique ressources</text>
<text x="89.98" y="830.70" font-family='"DejaVu Sans", sans-serif' font-size="9.8" font-weight="normal" fill="#383838" textLength="151.24" lengthAdjust="spacingAndGlyphs" xml:space="preserve">par concours/examen , sur</text>
<text x="99.60" y="844.90" font-family='"DejaVu Sans", sans-serif' font-size="9.8" font-weight="normal" fill="#383838" textLength="142.91" lengthAdjust="spacingAndGlyphs" xml:space="preserve">le panneau d'affichage à</text>
<text x="99.01" y="859.00" font-family='"DejaVu Sans", sans-serif' font-size="9.8" font-weight="normal" fill="#383838" textLength="142.52" lengthAdjust="spacingAndGlyphs" xml:space="preserve">l'entrée du CDG48 et sur</text>
<text x="139.32" y="872.90" font-family='"DejaVu Sans", sans-serif' font-size="9.8" font-weight="normal" fill="#383838" textLength="103.39" lengthAdjust="spacingAndGlyphs" xml:space="preserve">l'espace candidat.</text>
<text x="83.61" y="565.00" font-family='"DejaVu Sans", sans-serif' font-size="11.4" font-weight="normal" fill="#1b98d5" stroke="#1b98d5" stroke-width="0.6" stroke-linejoin="round" textLength="116.86" lengthAdjust="spacingAndGlyphs" xml:space="preserve">Epreuves orales</text>
<text x="109.20" y="581.10" font-family='"DejaVu Sans", sans-serif' font-size="11.4" font-weight="normal" fill="#1b98d5" stroke="#1b98d5" stroke-width="0.6" stroke-linejoin="round" textLength="86.73" lengthAdjust="spacingAndGlyphs" xml:space="preserve">d'admission</text>
<text x="51.90" y="620.60" font-family='"DejaVu Sans", sans-serif' font-size="9.8" font-weight="normal" fill="#383838" textLength="148.10" lengthAdjust="spacingAndGlyphs" xml:space="preserve">Les candidats passent les</text>
<text x="36.57" y="634.50" font-family='"DejaVu Sans", sans-serif' font-size="9.8" font-weight="normal" fill="#383838" textLength="165.01" lengthAdjust="spacingAndGlyphs" xml:space="preserve">épreuves orales avec  le jury</text>
<text x="80.37" y="648.50" font-family='"DejaVu Sans", sans-serif' font-size="9.8" font-weight="normal" fill="#383838" textLength="119.66" lengthAdjust="spacingAndGlyphs" xml:space="preserve">ou des examinateurs</text>
<text x="135.98" y="662.20" font-family='"DejaVu Sans", sans-serif' font-size="9.8" font-weight="normal" fill="#383838" textLength="65.04" lengthAdjust="spacingAndGlyphs" xml:space="preserve">spécialisés.</text>
<text x="71.31" y="400.10" font-family='"DejaVu Sans", sans-serif' font-size="11.4" font-weight="normal" fill="#22cb79" stroke="#22cb79" stroke-width="0.6" stroke-linejoin="round" textLength="112.55" lengthAdjust="spacingAndGlyphs" xml:space="preserve">Délibération du</text>
<text x="153.49" y="415.50" font-family='"DejaVu Sans", sans-serif' font-size="11.4" font-weight="normal" fill="#22cb79" stroke="#22cb79" stroke-width="0.6" stroke-linejoin="round" textLength="28.14" lengthAdjust="spacingAndGlyphs" xml:space="preserve">jury</text>
<text x="80.70" y="445.30" font-family='"DejaVu Sans", sans-serif' font-size="9.8" font-weight="normal" fill="#383838" textLength="119.10" lengthAdjust="spacingAndGlyphs" xml:space="preserve">Le jury se réunit une</text>
<text x="97.67" y="459.30" font-family='"DejaVu Sans", sans-serif' font-size="9.8" font-weight="normal" fill="#383838" textLength="101.73" lengthAdjust="spacingAndGlyphs" xml:space="preserve">dernière fois pour</text>
<text x="86.45" y="473.30" font-family='"DejaVu Sans", sans-serif' font-size="9.8" font-weight="normal" fill="#383838" textLength="113.82" lengthAdjust="spacingAndGlyphs" xml:space="preserve">établir le seuil et la</text>
<text x="90.49" y="487.30" font-family='"DejaVu Sans", sans-serif' font-size="9.8" font-weight="normal" fill="#383838" textLength="109.24" lengthAdjust="spacingAndGlyphs" xml:space="preserve">liste des candidats</text>
<text x="92.32" y="501.30" font-family='"DejaVu Sans", sans-serif' font-size="9.8" font-weight="normal" fill="#383838" textLength="107.41" lengthAdjust="spacingAndGlyphs" xml:space="preserve">admis au concours</text>
<text x="117.28" y="515.30" font-family='"DejaVu Sans", sans-serif' font-size="9.8" font-weight="normal" fill="#383838" textLength="82.75" lengthAdjust="spacingAndGlyphs" xml:space="preserve">ou à l'examen.</text>
<text x="134.71" y="232.00" font-family='"DejaVu Sans", sans-serif' font-size="11.4" font-weight="normal" fill="#84cc16" stroke="#84cc16" stroke-width="0.6" stroke-linejoin="round" textLength="110.57" lengthAdjust="spacingAndGlyphs" xml:space="preserve">Publication des</text>
<text x="178.62" y="247.30" font-family='"DejaVu Sans", sans-serif' font-size="11.4" font-weight="normal" fill="#84cc16" stroke="#84cc16" stroke-width="0.6" stroke-linejoin="round" textLength="66.67" lengthAdjust="spacingAndGlyphs" xml:space="preserve">résultats</text>
<text x="95.10" y="277.10" font-family='"DejaVu Sans", sans-serif' font-size="9.8" font-weight="normal" fill="#383838" textLength="146.90" lengthAdjust="spacingAndGlyphs" xml:space="preserve">Les résultats sont publiés</text>
<text x="116.46" y="290.70" font-family='"DejaVu Sans", sans-serif' font-size="9.8" font-weight="normal" fill="#383838" textLength="126.09" lengthAdjust="spacingAndGlyphs" xml:space="preserve">sur le site internet du</text>
<text x="86.17" y="304.80" font-family='"DejaVu Sans", sans-serif' font-size="9.8" font-weight="normal" fill="#383838" textLength="157.26" lengthAdjust="spacingAndGlyphs" xml:space="preserve">CDG48 rubrique ressources</text>
<text x="80.98" y="318.70" font-family='"DejaVu Sans", sans-serif' font-size="9.8" font-weight="normal" fill="#383838" textLength="161.08" lengthAdjust="spacingAndGlyphs" xml:space="preserve">par concours/examen, sur le</text>
<text x="113.86" y="332.30" font-family='"DejaVu Sans", sans-serif' font-size="9.8" font-weight="normal" fill="#383838" textLength="128.63" lengthAdjust="spacingAndGlyphs" xml:space="preserve">panneau d'affichage à</text>
<text x="99.01" y="346.80" font-family='"DejaVu Sans", sans-serif' font-size="9.8" font-weight="normal" fill="#383838" textLength="142.52" lengthAdjust="spacingAndGlyphs" xml:space="preserve">l'entrée du CDG48 et sur</text>
<text x="139.32" y="360.40" font-family='"DejaVu Sans", sans-serif' font-size="9.8" font-weight="normal" fill="#383838" textLength="103.39" lengthAdjust="spacingAndGlyphs" xml:space="preserve">l'espace candidat.</text>
</svg>
</body></html>
